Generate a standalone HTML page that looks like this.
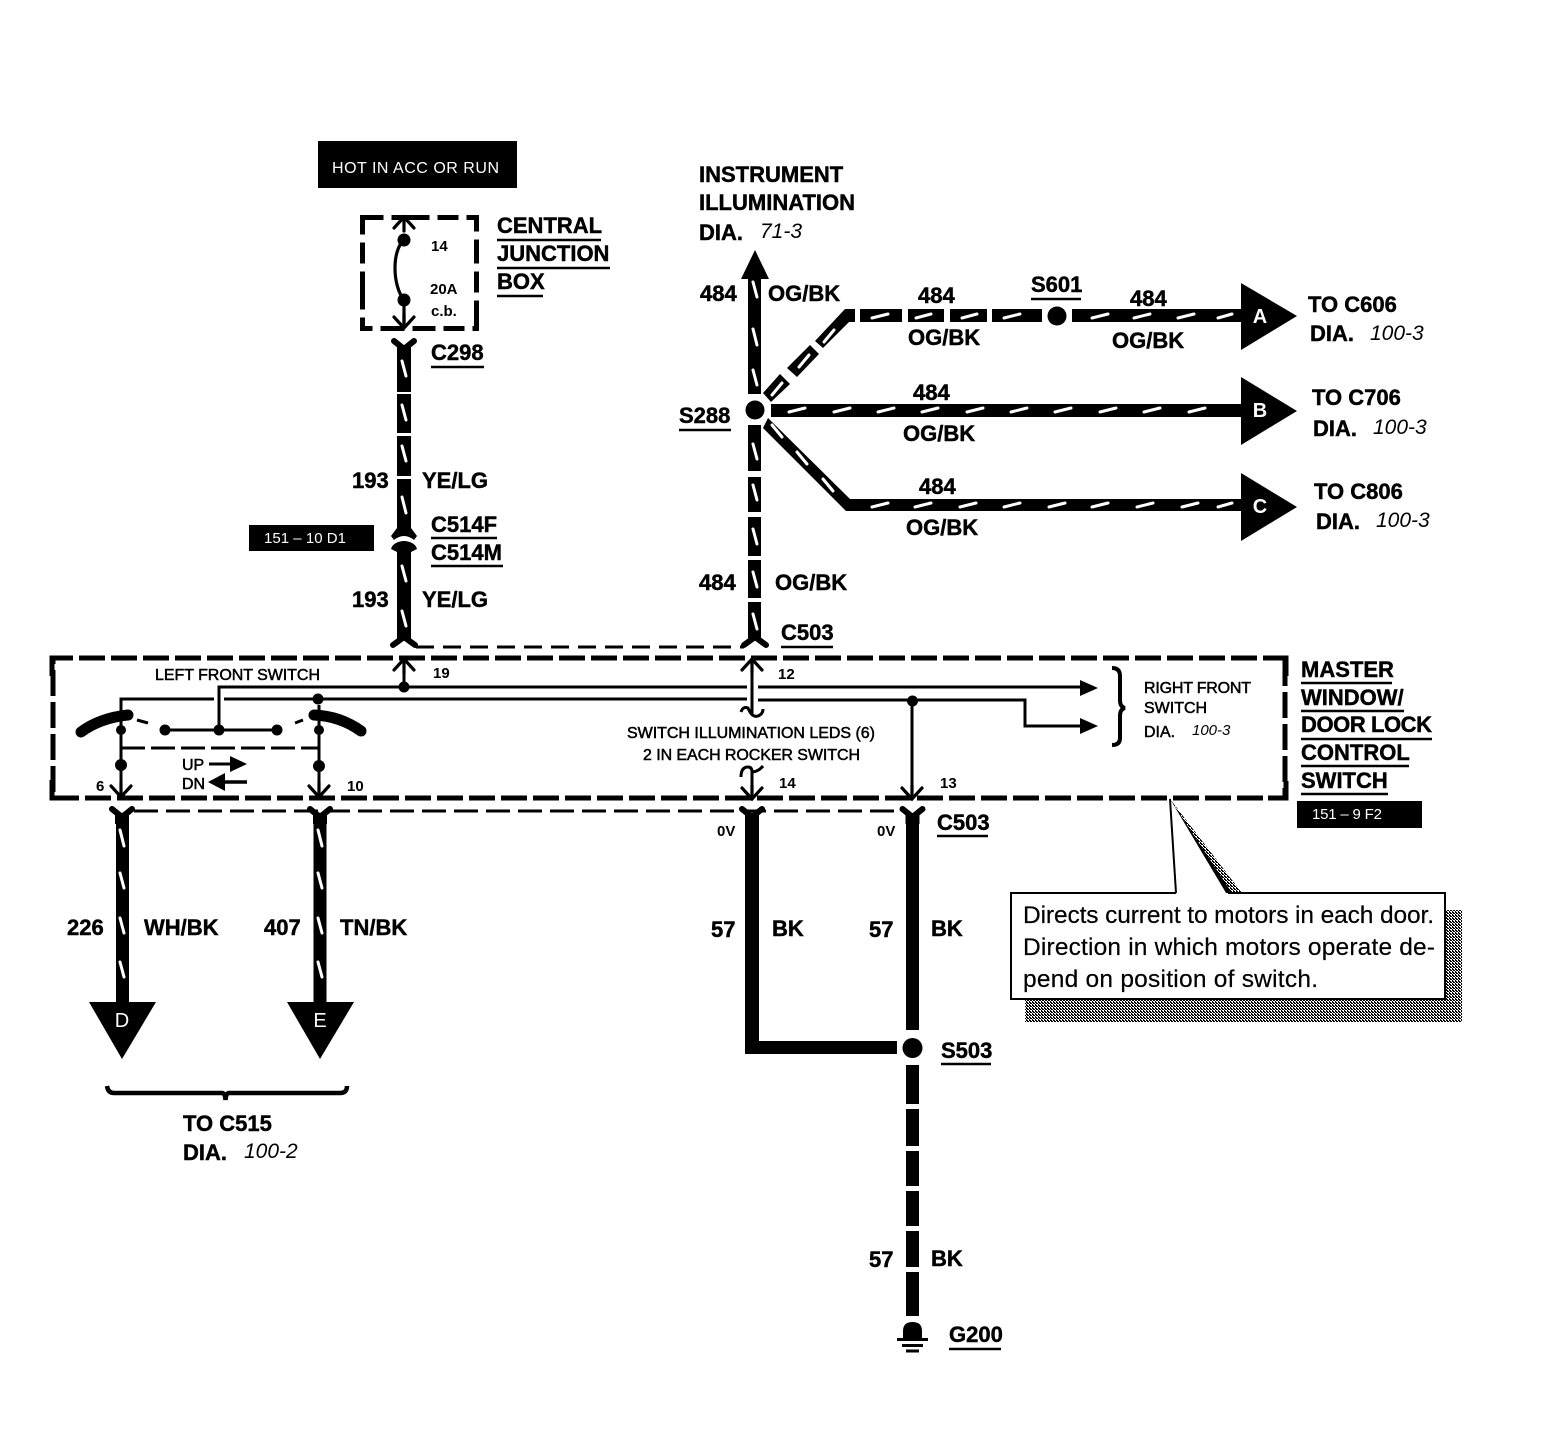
<!DOCTYPE html>
<html><head><meta charset="utf-8"><title>Power window wiring diagram</title>
<style>
html,body{margin:0;padding:0;background:#fff}
svg{display:block}
text{font-family:"Liberation Sans",sans-serif;fill:#000}
.b{font-weight:bold;font-size:22px;stroke:#000;stroke-width:.45px}
.i{font-style:italic;font-size:21px}
.s{font-size:16px;stroke:#000;stroke-width:.5px}
.n{font-size:15px;font-weight:bold}
.w{fill:#fff;font-size:15px}
.l{fill:#fff;font-size:20px;font-weight:bold;text-anchor:middle}
.c{font-size:24.5px;stroke:#000;stroke-width:.2px}
.u{stroke:#000;stroke-width:2.5;fill:none}
.t line{stroke:#fff;stroke-width:3;stroke-linecap:round}
.k{stroke:#000;fill:none}
</style></head><body>
<svg xmlns="http://www.w3.org/2000/svg" width="1564" height="1440" viewBox="0 0 1564 1440">
<defs>
<pattern id="d" width="3" height="3" patternUnits="userSpaceOnUse"><rect width="3" height="3" fill="#fff"/><rect width="2" height="1" fill="#000"/><rect x="1" y="1" width="2" height="1" fill="#000"/><rect y="2" width="1" height="1" fill="#000"/></pattern>
<g id="fd" class="k"><path d="M-10 -1L0 7L10 -1" stroke-width="6" stroke-linecap="round" stroke-linejoin="round"/><path d="M-7 3H7V14H-7Z" fill="#000" stroke="none"/></g>
<g id="fu" class="k"><path d="M-11 -2L0 -10L11 -2" stroke-width="6" stroke-linecap="round" stroke-linejoin="round"/></g>
<path id="av" d="M-10 -11L0 0L10 -11M0 -14V0" class="k" stroke-width="3.2" stroke-linecap="round"/>
<path id="au" d="M-10 11L0 0L10 11M0 14V0" class="k" stroke-width="3.2" stroke-linecap="round"/>
</defs>

<rect x="318" y="141" width="199" height="47" fill="#000"/>
<text class="w" x="332" y="173" style="font-size:16px" textLength="167">HOT IN ACC OR RUN</text>

<!-- Central junction box -->
<rect x="362.5" y="217.5" width="114" height="111" class="k" stroke-width="5" stroke-dasharray="21 8 38 8 21 8 24 8 24 8 21 8 32 8 21 8 23 8 24 8"/>
<use href="#au" x="404" y="217"/>
<circle cx="404" cy="240" r="6.5"/><circle cx="404" cy="300" r="6.5"/>
<path d="M404 240C392 250 392 285 404 300V328" class="k" stroke-width="3.2"/>
<use href="#av" x="404" y="328"/>
<text class="n" x="431" y="251">14</text>
<text class="n" x="430" y="294">20A</text>
<text class="n" x="431" y="316">c.b.</text>
<text class="b" x="497" y="233">CENTRAL</text><line class="u" x1="497" x2="601" y1="240" y2="240"/>
<text class="b" x="497" y="261">JUNCTION</text><line class="u" x1="497" x2="610" y1="268" y2="268"/>
<text class="b" x="497" y="289">BOX</text><line class="u" x1="497" x2="543" y1="296" y2="296"/>
<text class="b" x="431" y="360">C298</text><line class="u" x1="431" x2="484" y1="367" y2="367"/>

<!-- Wire 193 -->
<use href="#fd" x="404" y="342"/>
<rect x="397" y="350" width="14" height="42"/><rect x="397" y="394" width="14" height="39"/><rect x="397" y="436" width="14" height="40"/><rect x="397" y="479" width="14" height="52"/>
<path d="M391 536L397 528H411L417 536L414 540Q404 532 394 540Z"/>
<rect x="397" y="545" width="14" height="95"/>
<path d="M391 549Q392 545 396 543Q404 539 412 543Q416 545 417 549L411 552H397Z"/>
<use href="#fu" x="404" y="647"/><rect x="397" y="630" width="14" height="10"/>
<g class="t"><line x1="402" y1="361" x2="406" y2="376"/><line x1="402" y1="405" x2="406" y2="420"/><line x1="402" y1="446" x2="406" y2="461"/><line x1="402" y1="497" x2="406" y2="513"/><line x1="402" y1="566" x2="406" y2="581"/><line x1="402" y1="611" x2="406" y2="626"/></g>
<text class="b" x="352" y="488">193</text><text class="b" x="422" y="488">YE/LG</text>
<text class="b" x="352" y="607">193</text><text class="b" x="422" y="607">YE/LG</text>
<text class="b" x="431" y="532">C514F</text><line class="u" x1="431" x2="497" y1="538" y2="538"/>
<text class="b" x="431" y="560">C514M</text><line class="u" x1="431" x2="503" y1="566" y2="566"/>
<rect x="249" y="525" width="125" height="26" fill="#000"/><text class="w" x="264" y="543" textLength="82">151 – 10 D1</text>

<line x1="416" x2="744" y1="647" y2="647" class="k" stroke-width="3" stroke-dasharray="18 9"/>

<!-- Instrument illumination -->
<text class="b" x="699" y="182">INSTRUMENT</text>
<text class="b" x="699" y="210">ILLUMINATION</text>
<text class="b" x="699" y="240">DIA.</text><text class="i" x="760" y="238">71-3</text>
<path d="M755 250L769 279H741Z"/>
<rect x="748" y="278" width="13" height="116"/>
<rect x="748" y="425" width="13" height="46"/><rect x="748" y="477" width="13" height="35"/><rect x="748" y="517" width="13" height="39"/><rect x="748" y="560" width="13" height="38"/><rect x="748" y="602" width="13" height="36"/>
<use href="#fu" x="755" y="647"/>
<g class="t"><line x1="753" y1="282" x2="757" y2="297"/><line x1="753" y1="329" x2="757" y2="345"/><line x1="753" y1="370" x2="757" y2="385"/><line x1="753" y1="444" x2="757" y2="459"/><line x1="753" y1="485" x2="757" y2="500"/><line x1="753" y1="529" x2="757" y2="544"/><line x1="753" y1="572" x2="757" y2="587"/><line x1="753" y1="614" x2="757" y2="629"/></g>
<text class="b" x="700" y="301">484</text><text class="b" x="768" y="301">OG/BK</text>
<text class="b" x="699" y="590">484</text><text class="b" x="775" y="590">OG/BK</text>
<text class="b" x="679" y="423">S288</text><line class="u" x1="679" x2="731" y1="430" y2="430"/>
<text class="b" x="781" y="640">C503</text><line class="u" x1="781" x2="833" y1="647" y2="647"/>

<!-- Branches -->
<path d="M763 393L780 374L790 384L771 402Z"/><path d="M787 368L810 345L819 354L797 377Z"/><path d="M815 341L845 309H855V322H849L823 348Z"/>
<path d="M768 418L850 499H1241V511H846L763 428Z"/>
<rect x="771" y="404" width="470" height="13"/>
<rect x="860" y="309" width="42" height="13"/><rect x="908" y="309" width="36" height="13"/><rect x="950" y="309" width="37" height="13"/><rect x="992" y="309" width="50" height="13"/><rect x="1072" y="309" width="170" height="13"/>
<circle cx="1057" cy="316" r="9.500"/>
<circle cx="755" cy="410" r="9.500"/>
<g class="t">
<line x1="772" y1="395" x2="782" y2="383"/><line x1="799" y1="367" x2="809" y2="355"/><line x1="824" y1="342" x2="834" y2="330"/>
<line x1="772" y1="425" x2="782" y2="437"/><line x1="797" y1="452" x2="807" y2="464"/><line x1="823" y1="479" x2="833" y2="491"/>
<line x1="872" y1="318" x2="888" y2="314"/><line x1="916" y1="318" x2="931" y2="314"/><line x1="962" y1="318" x2="977" y2="314"/><line x1="1004" y1="318" x2="1020" y2="314"/><line x1="1092" y1="318" x2="1108" y2="314"/><line x1="1134" y1="318" x2="1150" y2="314"/><line x1="1178" y1="318" x2="1194" y2="314"/><line x1="1218" y1="318" x2="1232" y2="314"/>
<line x1="789" y1="412" x2="805" y2="408"/><line x1="834" y1="412" x2="850" y2="408"/><line x1="878" y1="412" x2="894" y2="408"/><line x1="922" y1="412" x2="938" y2="408"/><line x1="967" y1="412" x2="983" y2="408"/><line x1="1011" y1="412" x2="1027" y2="408"/><line x1="1055" y1="412" x2="1071" y2="408"/><line x1="1100" y1="412" x2="1116" y2="408"/><line x1="1144" y1="412" x2="1160" y2="408"/><line x1="1189" y1="412" x2="1205" y2="408"/>
<line x1="872" y1="507" x2="888" y2="503"/><line x1="915" y1="507" x2="931" y2="503"/><line x1="960" y1="507" x2="976" y2="503"/><line x1="1004" y1="507" x2="1020" y2="503"/><line x1="1049" y1="507" x2="1065" y2="503"/><line x1="1092" y1="507" x2="1108" y2="503"/><line x1="1137" y1="507" x2="1153" y2="503"/><line x1="1182" y1="507" x2="1198" y2="503"/><line x1="1218" y1="507" x2="1232" y2="503"/>
</g>
<path d="M1241 283L1297 316L1241 350Z"/><path d="M1241 377L1297 411L1241 445Z"/><path d="M1241 473L1297 507L1241 541Z"/>
<text class="l" x="1260" y="323">A</text><text class="l" x="1260" y="417">B</text><text class="l" x="1260" y="513">C</text>
<text class="b" x="918" y="303">484</text><text class="b" x="908" y="345">OG/BK</text>
<text class="b" x="1031" y="292">S601</text><line class="u" x1="1031" x2="1081" y1="299" y2="299"/>
<text class="b" x="1130" y="306">484</text><text class="b" x="1112" y="348">OG/BK</text>
<text class="b" x="913" y="400">484</text><text class="b" x="903" y="441">OG/BK</text>
<text class="b" x="919" y="494">484</text><text class="b" x="906" y="535">OG/BK</text>
<text class="b" x="1308" y="312">TO C606</text><text class="b" x="1310" y="341">DIA.</text><text class="i" x="1370" y="340">100-3</text>
<text class="b" x="1312" y="405">TO C706</text><text class="b" x="1313" y="436">DIA.</text><text class="i" x="1373" y="434">100-3</text>
<text class="b" x="1314" y="499">TO C806</text><text class="b" x="1316" y="529">DIA.</text><text class="i" x="1376" y="527">100-3</text>

<!-- Master switch box -->
<path d="M1285 658H53V798H1285V658" class="k" stroke-width="5" stroke-dasharray="26 6" stroke-dashoffset="4"/>
<path d="M52 676V658H72M52 780V798H72M1268 658H1286V676M1268 798H1286V781" class="k" stroke-width="5"/>
<text class="s" x="155" y="680" textLength="165">LEFT FRONT SWITCH</text>
<text class="n" x="433" y="678">19</text><text class="n" x="778" y="679">12</text><text class="n" x="779" y="788">14</text><text class="n" x="940" y="788">13</text><text class="n" x="96" y="791">6</text><text class="n" x="347" y="791">10</text>
<use href="#au" x="404" y="659"/><circle cx="404" cy="687" r="5.500"/><line x1="404" y1="670" x2="404" y2="687" class="k" stroke-width="3"/>
<path d="M219 730V687H747M758 687H1085" class="k" stroke-width="3"/>
<path d="M121 765V699H214M224 699H747M758 700H1025V726H1085" class="k" stroke-width="3"/>
<path d="M1098 688L1080 680V696ZM1098 726L1080 718V734Z"/>
<path d="M1112 668Q1120 668 1120 676V700Q1120 707 1125 708Q1120 709 1120 716V738Q1120 745 1112 745" class="k" stroke-width="4"/>
<text class="s" x="1144" y="693" textLength="107">RIGHT FRONT</text><text class="s" x="1144" y="713">SWITCH</text>
<text class="s" x="1144" y="737">DIA.</text><text x="1192" y="735" class="i" style="font-size:15px">100-3</text>
<text class="b" x="1301" y="677">MASTER</text><line class="u" x1="1301" x2="1392" y1="683" y2="683"/>
<text class="b" x="1301" y="705">WINDOW/</text><line class="u" x1="1301" x2="1404" y1="711" y2="711"/>
<text class="b" x="1301" y="732" textLength="131">DOOR LOCK</text><line class="u" x1="1301" x2="1432" y1="739" y2="739"/>
<text class="b" x="1301" y="760">CONTROL</text><line class="u" x1="1301" x2="1409" y1="766" y2="766"/>
<text class="b" x="1301" y="788">SWITCH</text><line class="u" x1="1301" x2="1388" y1="794" y2="794"/>
<rect x="1297" y="801" width="125" height="27" fill="#000"/><text class="w" x="1312" y="819" textLength="70">151 – 9 F2</text>

<!-- Rockers -->
<path d="M81 732Q100 718 128 715" class="k" stroke-width="11" stroke-linecap="round"/>
<path d="M314 715Q340 716 361 731" class="k" stroke-width="11" stroke-linecap="round"/>
<path d="M137 720L148 723M295 723L303 720" class="k" stroke-width="3"/>
<path d="M165 730H277" class="k" stroke-width="3"/>
<circle cx="165" cy="730" r="5.500"/><circle cx="219" cy="730" r="5.500"/><circle cx="277" cy="730" r="5.500"/>
<circle cx="318" cy="699" r="5.500"/><circle cx="121" cy="730" r="5"/><circle cx="319" cy="730" r="5"/>
<path d="M121 720V797M319 705V797" class="k" stroke-width="3"/>
<circle cx="121" cy="765" r="6"/><circle cx="319" cy="766" r="6"/>
<path d="M121 748H319" class="k" stroke-width="3" stroke-dasharray="24 6"/>
<use href="#av" x="121" y="797"/><use href="#av" x="319" y="797"/>
<text class="s" x="182" y="770">UP</text><text class="s" x="182" y="789">DN</text>
<path d="M209 764H232" class="k" stroke-width="3"/><path d="M247 764L230 756V772Z"/>
<path d="M247 782H222" class="k" stroke-width="3.500"/><path d="M208 782L225 773V791Z"/>

<!-- Illumination -->
<use href="#au" x="752" y="659"/>
<path d="M752 668V714M741 712Q743 706 748 708Q752 718 758 716Q763 714 763 709" class="k" stroke-width="3"/>
<text class="s" x="627" y="738" textLength="248">SWITCH ILLUMINATION LEDS (6)</text>
<text class="s" x="643" y="760" textLength="217">2 IN EACH ROCKER SWITCH</text>
<path d="M741 777Q741 767 748 767Q752 767 752 772V798M752 772Q758 772 763 766" class="k" stroke-width="3"/>
<use href="#av" x="752" y="799"/>
<path d="M912 700V798" class="k" stroke-width="3"/><circle cx="912.500" cy="701" r="5.500"/>
<use href="#av" x="912" y="799"/>

<!-- Lower wires -->
<line x1="134" x2="900" y1="811" y2="811" class="k" stroke-width="3" stroke-dasharray="24 8"/>
<use href="#fd" x="122" y="810"/><use href="#fd" x="320" y="810"/><use href="#fd" x="752" y="810"/><use href="#fd" x="912.500" y="810"/>
<rect x="116" y="818" width="13" height="190"/><rect x="313.500" y="818" width="13" height="190"/>
<g class="t"><line x1="120" y1="830" x2="124" y2="846"/><line x1="120" y1="873" x2="124" y2="888"/><line x1="120" y1="918" x2="124" y2="933"/><line x1="120" y1="962" x2="124" y2="977"/><line x1="318" y1="830" x2="322" y2="846"/><line x1="318" y1="873" x2="322" y2="888"/><line x1="318" y1="918" x2="322" y2="933"/><line x1="318" y1="962" x2="322" y2="977"/></g>
<path d="M89 1002H156L122 1059Z"/><path d="M287 1002H354L320 1059Z"/>
<text class="l" x="122" y="1027" style="font-weight:normal">D</text><text class="l" x="320" y="1027" style="font-weight:normal">E</text>
<text class="b" x="67" y="935">226</text><text class="b" x="144" y="935">WH/BK</text>
<text class="b" x="264" y="935">407</text><text class="b" x="340" y="935">TN/BK</text>
<path d="M107 1086Q108 1093 114 1093H222Q225 1093 225.500 1100Q226 1093 229 1093H340Q347 1093 347 1086" class="k" stroke-width="4.500"/>
<text class="b" x="183" y="1131">TO C515</text><text class="b" x="183" y="1160">DIA.</text><text class="i" x="244" y="1158">100-2</text>

<text class="n" x="717" y="836">0V</text><text class="n" x="877" y="836">0V</text>
<text class="b" x="937" y="830">C503</text><line class="u" x1="937" x2="988" y1="836" y2="836"/>
<path d="M745 818H759V1041H897V1054H745Z"/>
<rect x="906" y="818" width="13" height="212"/>
<circle cx="912.500" cy="1048" r="10"/>
<rect x="906" y="1065" width="13" height="39"/><rect x="906" y="1109" width="13" height="37"/><rect x="906" y="1151" width="13" height="35"/><rect x="906" y="1191" width="13" height="35"/><rect x="906" y="1231" width="13" height="36"/><rect x="906" y="1272" width="13" height="44"/>
<text class="b" x="711" y="937">57</text><text class="b" x="772" y="936">BK</text>
<text class="b" x="869" y="937">57</text><text class="b" x="931" y="936">BK</text>
<text class="b" x="869" y="1267">57</text><text class="b" x="931" y="1266">BK</text>
<text class="b" x="941" y="1058">S503</text><line class="u" x1="941" x2="991" y1="1064" y2="1064"/>
<path d="M903 1338V1331Q903 1322 912.500 1322Q922 1322 922 1331V1338Z"/>
<path d="M897 1339.500H928M902 1345.500H923M906 1351H919" class="k" stroke-width="3"/>
<text class="b" x="949" y="1342">G200</text><line class="u" x1="949" x2="1001" y1="1349" y2="1349"/>

<!-- Callout -->
<rect x="1025" y="910" width="437" height="112" fill="url(#d)"/>
<path d="M1170 799L1226 893H1242Z" fill="url(#d)"/>
<path d="M1170 799L1226 893H1232Z" fill="#000"/>
<path d="M1170 799L1176 893H1226Z" fill="#fff"/>
<rect x="1011" y="893" width="434" height="106" fill="#fff"/>
<path d="M1176 893H1011V999H1445V893H1228M1176 893L1170 799" class="k" stroke-width="2"/>
<text class="c" x="1023" y="923" textLength="411">Directs current to motors in each door.</text>
<text class="c" x="1023" y="955" textLength="412">Direction in which motors operate de-</text>
<text class="c" x="1023" y="987" textLength="295">pend on position of switch.</text>
</svg>
</body></html>
